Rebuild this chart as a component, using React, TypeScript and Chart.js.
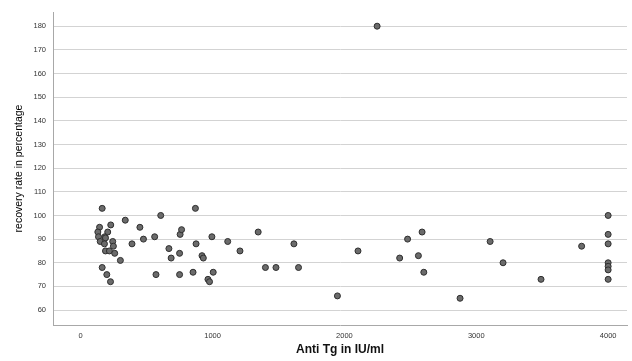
import React, { useEffect, useRef } from "react";
import { Chart, registerables } from "chart.js";

Chart.register(...registerables);

// Anti Tg (IU/ml) values
const antiTg: number[] = [
  163, 143, 228, 130, 205, 135, 183, 188, 148, 243, 180, 248, 188, 218, 258, 301, 163, 198, 226,
  338, 449, 389, 476, 561, 607, 571, 669, 686, 750, 750, 754, 765, 870, 875, 852, 920, 930, 965,
  977, 995, 1005, 1115, 1208, 1346, 1401, 1481, 1617, 1652, 1947, 2103, 2248, 2419, 2479, 2561,
  2589, 2602, 2877, 3105, 3203, 3491, 3799, 4000, 4000, 4000, 4000, 4000, 4000, 4000,
];
// recovery rate (%) values
const recovery: number[] = [
  103, 95, 96, 93, 93, 91, 91, 90.5, 89, 89, 88, 87, 85, 85, 84, 81, 78, 75, 72,
  98, 95, 88, 90, 91, 100, 75, 86, 82, 84, 75, 92, 94, 103, 88, 76, 83, 82, 73,
  72, 91, 76, 89, 85, 93, 78, 78, 88, 78, 66, 85, 180, 82, 90, 83,
  93, 76, 65, 89, 80, 73, 87, 100, 92, 88, 80, 78.5, 77, 73,
];

const xTicks: number[] = [0, 1000, 2000, 3000, 4000];
const yTicks: number[] = [60, 70, 80, 90, 100, 110, 120, 130, 140, 150, 160, 170, 180];

const xTitle = "Anti Tg in IU/ml";
const yTitle = "recovery rate in percentage";

export default function App() {
  const ref = useRef<HTMLCanvasElement | null>(null);

  useEffect(() => {
    if (!ref.current) return;
    const points = antiTg.map((x, i) => ({ x, y: recovery[i] }));
    const chart = new Chart(ref.current, {
      type: "scatter",
      data: {
        datasets: [
          {
            data: points,
            backgroundColor: "#6b6b6b",
            borderColor: "#2e2e2e",
            borderWidth: 1,
            pointRadius: 3,
          },
        ],
      },
      options: {
        animation: false,
        responsive: false,
        maintainAspectRatio: false,
        layout: { padding: { top: 12, right: 0, left: 0, bottom: 0 } },
        plugins: { legend: { display: false }, tooltip: { enabled: false } },
        scales: {
          x: {
            type: "linear",
            min: -210,
            max: 4143,
            afterBuildTicks: (s: any) => {
              s.ticks = xTicks.map((v) => ({ value: v }));
            },
            afterFit: (s: any) => {
              s.height = 36;
            },
            grid: { display: true, drawOnChartArea: false, drawTicks: false, color: "rgba(0,0,0,0)" },
            border: { display: true, color: "#a8a8a8", width: 1 },
            ticks: {
              padding: 6,
              color: "#333",
              font: { family: "'Liberation Sans', Arial, sans-serif", size: 7.5 },
              maxRotation: 0,
              callback: (v: any) => String(v),
            },
            title: {
              display: true,
              text: xTitle,
              color: "#111",
              font: { family: "'Liberation Sans', Arial, sans-serif", size: 12, weight: "bold" },
              padding: { top: 0, bottom: 4 },
            },
          },
          y: {
            type: "linear",
            min: 53.7,
            max: 186,
            afterBuildTicks: (s: any) => {
              s.ticks = yTicks.map((v) => ({ value: v }));
            },
            afterFit: (s: any) => {
              s.width = 53;
            },
            grid: { display: true, drawTicks: false, color: "#d3d3d3", lineWidth: 1 },
            border: { display: true, color: "#a8a8a8", width: 1 },
            ticks: {
              padding: 7,
              color: "#333",
              font: { family: "'Liberation Sans', Arial, sans-serif", size: 7.5 },
              callback: (v: any) => String(v),
            },
            title: {
              display: true,
              text: yTitle,
              color: "#000",
              font: { family: "'Liberation Sans', Arial, sans-serif", size: 10.5 },
              padding: { top: 13, bottom: 0 },
            },
          },
        },
      },
    });
    return () => chart.destroy();
  }, []);

  return (
    <div style={{ position: "fixed", left: 0, top: 0, width: 632, height: 361, background: "#fff" }}>
      <canvas ref={ref} width={632} height={361} style={{ width: 632, height: 361, display: "block" }} />
    </div>
  );
}
